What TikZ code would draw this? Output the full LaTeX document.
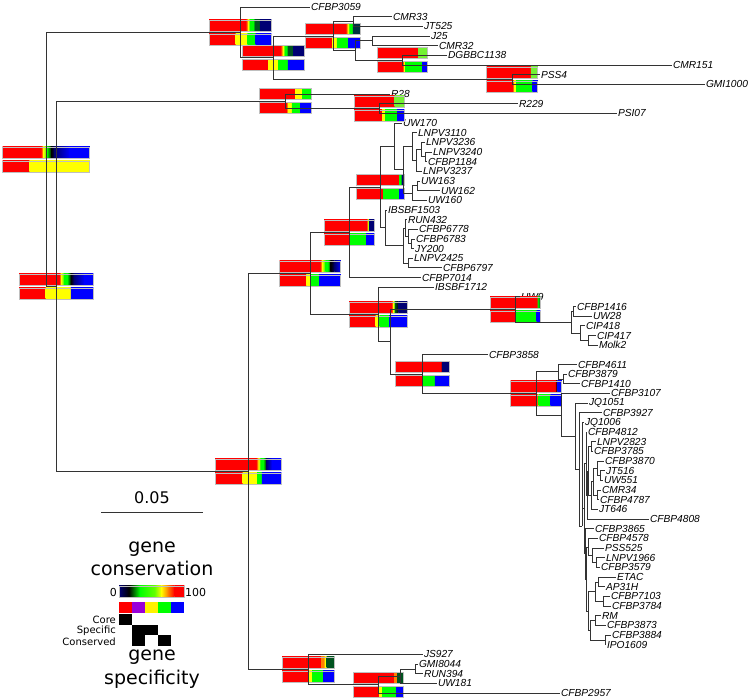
\documentclass[tikz,border=0pt]{standalone}
\usepackage{fontspec}
\setsansfont{DejaVu Sans}
\newfontfamily\leaffont{Liberation Sans}
\usetikzlibrary{positioning}

\definecolor{navy}{rgb}{0,0,0.45}
\definecolor{dkgreen}{rgb}{0,0.33,0.12}
\definecolor{dkteal}{rgb}{0,0.2,0.25}
\definecolor{ltgreen}{rgb}{0.45,0.95,0.2}
\definecolor{specviolet}{rgb}{0.6,0,0.85}

\tikzset{
  branch/.style={draw=black!80, line width=0.75pt},
  leaf/.style={anchor=west, inner sep=0.8pt, font=\leaffont\itshape\fontsize{10.2}{10.5}\selectfont},
  barrim/.style={draw=black!25, line width=0.4pt},
  legendbig/.style={font=\sffamily\fontsize{19}{23.5}\selectfont, align=center, inner sep=0pt},
  legendsmall/.style={font=\sffamily\fontsize{10}{12}\selectfont, inner sep=1pt},
}

% one coloured bar: x0, y0, width, height, segments from/to/colour/colour
\newcommand{\segbar}[5]{%
  \foreach \a/\b/\ca/\cb in {#5}
    \shade[left color=\ca, right color=\cb] ({#1+\a*(#3)},{#2}) rectangle ({#1+\b*(#3)+0.3},{#2+#4});
  \draw[barrim] ({#1},{#2}) rectangle ({#1+#3},{#2+#4});}
% the two bars at an inner node: node, width, conservation, specificity
\newcommand{\genebars}[4]{%
  \begin{scope}[shift={(#1)}]
    \segbar{-#2/2}{-12.5}{#2}{11}{#3}
    \segbar{-#2/2}{1.5}{#2}{11}{#4}
  \end{scope}}

\begin{document}
\begin{tikzpicture}[x=1pt, y=-1pt]
    \useasboundingbox (0,0) rectangle (748,700);

    % leaves
    \foreach \x/\lbl [count=\i from 0] in {310/CFBP3059, 392/CMR33, 423/JT525, 430/J25, 438/CMR32, 447/DGBBC1138, 672/CMR151, 540/PSS4, 705/GMI1000, 390/R28, 518/R229, 617/PSI07, 402/UW170, 417/LNPV3110, 425/LNPV3236, 432/LNPV3240, 427/CFBP1184, 422/LNPV3237, 420/UW163, 440/UW162, 427/UW160, 387/IBSBF1503, 407/RUN432, 418/CFBP6778, 415/CFBP6783, 414/JY200, 413/LNPV2425, 442/CFBP6797, 421/CFBP7014, 434/IBSBF1712, 520/UW9, 576/CFBP1416, 592/UW28, 585/CIP418, 596/CIP417, 598/Molk2, 488/CFBP3858, 577/CFBP4611, 567/CFBP3879, 580/CFBP1410, 610/CFBP3107, 588/JQ1051, 602/CFBP3927, 584/JQ1006, 587/CFBP4812, 596/LNPV2823, 593/CFBP3785, 604/CFBP3870, 605/JT516, 603/UW551, 601/CMR34, 599/CFBP4787, 598/JT646, 649/CFBP4808, 594/CFBP3865, 598/CFBP4578, 604/PSS525, 605/LNPV1966, 600/CFBP3579, 616/ETAC, 605/AP31H, 610/CFBP7103, 611/CFBP3784, 601/RM, 606/CFBP3873, 611/CFBP3884, 606/IPO1609, 423/JS927, 418/GMI8044, 423/RUN394, 437/UW181, 560/CFBP2957}
        \node[leaf] (\lbl) at (\x,{7+9.662*\i}) {\lbl};

    % inner nodes
    \foreach \nm/\x/\y in {root/46/159.4, nTwo/56/286.4, nA/240/32.4, nB/273/57.7, nC/333/36, nG/353/21.5, nH/355/50.5, nI/372/40.8, nE/402/60.1, nF/512/79.5, nJ/285/101.2, nK/379/108.5, nL/248/471.5, nM/310/273.4, nO/349/232.3, nQ/380/187, nR/394/146.4, nT/403/169.8, nU/412/146.5, nUb/416/160.4, nUc/421/149.5, nUd/425/156.8, nV/412/193, nVb/417/185.8, nS/385/227.7, nSb/403/245.5, nSc/405/228, nSe/408/236.5, nSf/411/243.7, nSd/408/263, nP/378/314.5, nW/390/341.8, nX/515/309.5, nZ/571/322.2, nZa/573/311.4, nZb/580/333.1, nZc/588/340.3, nY/422/374, nAA/536/393.3, nAB/558/371.7, nABb/563/379, nAC/561/414.9, nAD/575/436.3, nAE/579/469.4, nAF/582/526, nAG/584/508.7, nGa/586/463.6, nGah/587/495, nGag/588/471, nGaa/591/446.6, nGaf/591/495.5, nGae/593/481.6, nGac/597/468.4, nGab/600/475.6, nGad/597/494.9, nGb/585/553.8, nGbl/586/578.9, nGbk/588/546.9, nGbb/592/555.3, nGba/596/562.6, nGbj/588/610.9, nGbf/595/591.5, nGbe/598/581.9, nGbc/603/601.2, nGbi/590/630.2, nGbg/595/620.5, nGbh/605/639.9, nN/308/669.5, nNB/378/684.6, nNC/400/676.1, nND/415/668.9}
        \coordinate (\nm) at (\x,\y);

    % gene bars
    \genebars{root}{87}{0/.44/red/red, .44/.47/red/yellow, .47/.51/yellow/green, .51/.56/green/black, .56/.60/black/navy, .60/.77/navy/blue, .77/1/blue/blue}{0/.31/red/red, .31/1/yellow/yellow}
    \genebars{nTwo}{74}{0/.54/red/red, .54/.57/red/yellow, .57/.61/yellow/green, .61/.65/green/green, .65/.70/green/black, .70/.74/black/navy, .74/.88/navy/blue, .88/1/blue/blue}{0/.36/red/red, .36/.70/yellow/yellow, .70/1/blue/blue}
    \genebars{nA}{62}{0/.59/red/red, .59/.63/red/yellow, .63/.66/yellow/green, .66/.71/green/green, .71/.74/green/dkgreen, .74/.82/dkgreen/dkgreen, .82/1/navy/navy}{0/.43/red/red, .43/.62/yellow/yellow, .62/.75/green/green, .75/1/blue/blue}
    \genebars{nB}{62}{0/.62/red/red, .62/.66/red/yellow, .66/.69/yellow/green, .69/.72/green/green, .72/.74/green/dkgreen, .74/.83/dkgreen/dkgreen, .83/1/navy/navy}{0/.43/red/red, .43/.59/yellow/yellow, .59/.74/green/green, .74/1/blue/blue}
    \genebars{nC}{55}{0/.73/red/red, .73/.77/red/yellow, .77/.80/yellow/green, .80/.84/green/green, .84/.87/green/dkteal, .87/1/dkteal/dkteal}{0/.49/red/red, .49/.57/yellow/yellow, .57/.78/green/green, .78/1/blue/blue}
    \genebars{nE}{50}{0/.82/red/red, .82/1/ltgreen/ltgreen}{0/.53/red/red, .53/.57/yellow/yellow, .57/.9/green/green, .9/1/blue/blue}
    \genebars{nF}{51}{0/.87/red/red, .87/1/ltgreen/ltgreen}{0/.53/red/red, .53/.58/yellow/yellow, .58/.9/green/green, .9/1/blue/blue}
    \genebars{nJ}{52}{0/.70/red/red, .70/.84/yellow/yellow, .84/1/green/green}{0/.54/red/red, .54/.57/orange/yellow, .57/.63/yellow/yellow, .63/.80/green/green, .80/1/blue/blue}
    \genebars{nK}{50}{0/.81/red/red, .81/1/ltgreen/ltgreen}{0/.56/red/red, .56/.62/yellow/yellow, .62/.86/green/green, .86/1/blue/blue}
    \genebars{nL}{66}{0/.62/red/red, .62/.66/red/yellow, .66/.69/yellow/green, .69/.73/green/green, .73/.78/green/black, .78/.86/navy/blue, .86/1/blue/blue}{0/.42/red/red, .42/.64/yellow/yellow, .64/.71/green/green, .71/1/blue/blue}
    \genebars{nM}{61}{0/.66/red/red, .66/.70/red/yellow, .70/.75/yellow/green, .75/.79/green/green, .79/.84/green/black, .84/.90/black/navy, .90/1/navy/blue}{0/.44/red/red, .44/.52/yellow/yellow, .52/.65/green/green, .65/1/blue/blue}
    \genebars{nO}{50}{0/.87/red/red, .87/.9/yellow/green, .9/1/navy/navy}{0/.52/red/red, .52/.84/green/green, .84/1/blue/blue}
    \genebars{nQ}{48}{0/.9/red/red, .9/.95/green/green, .95/1/navy/navy}{0/.57/red/red, .57/.9/green/green, .9/1/blue/blue}
    \genebars{nP}{58}{0/.73/red/red, .73/.76/red/yellow, .76/.79/yellow/green, .79/.85/dkgreen/black, .85/1/navy/navy}{0/.46/red/red, .46/.53/yellow/yellow, .53/.69/green/green, .69/1/blue/blue}
    \genebars{nX}{50}{0/.95/red/red, .95/1/green/dkgreen}{0/.52/red/red, .52/.93/green/green, .93/1/blue/blue}
    \genebars{nY}{54}{0/.86/red/red, .86/.88/red!50!black/black, .88/1/navy/navy}{0/.51/red/red, .51/.53/yellow/yellow, .53/.74/green/green, .74/1/blue/blue}
    \genebars{nAA}{51}{0/.89/red/red, .89/.92/red!40!black/black, .92/1/blue/blue}{0/.53/red/red, .53/.55/yellow/yellow, .55/.78/green/green, .78/1/blue/blue}
    \genebars{nN}{52}{0/.75/red/red, .75/.82/orange/orange, .82/.86/yellow/yellow, .86/1/dkgreen/dkgreen}{0/.52/red/red, .52/.58/yellow/yellow, .58/.79/green/green, .79/1/blue/blue}
    \genebars{nNB}{50}{0/.83/red/red, .83/.89/orange/orange, .89/1/dkgreen/dkgreen}{0/.53/red/red, .53/.59/yellow/yellow, .59/.87/green/green, .87/1/blue/blue}

    % branches
    \foreach \p/\c in {root/nA, root/nTwo, nTwo/nJ, nTwo/nL, nA/CFBP3059, nA/nB, nB/nC, nB/nF, nC/nG, nC/nH, nG/CMR33, nG/JT525, nH/nI, nH/nE, nI/J25, nI/CMR32, nE/DGBBC1138, nE/CMR151, nF/PSS4, nF/GMI1000, nJ/R28, nJ/nK, nK/R229, nK/PSI07, nL/nM, nL/nN, nM/nO, nM/nP, nO/nQ, nO/CFBP7014, nQ/nR, nQ/nS, nR/UW170, nR/nT, nT/nU, nT/nV, nU/LNPV3110, nU/nUb, nUb/nUc, nUb/LNPV3237, nUc/LNPV3236, nUc/nUd, nUd/LNPV3240, nUd/CFBP1184, nV/nVb, nV/UW160, nVb/UW163, nVb/UW162, nS/IBSBF1503, nS/nSb, nSb/nSc, nSb/nSd, nSc/RUN432, nSc/nSe, nSe/CFBP6778, nSe/nSf, nSf/CFBP6783, nSf/JY200, nSd/LNPV2425, nSd/CFBP6797, nP/IBSBF1712, nP/nW, nW/nX, nW/nY, nX/UW9, nX/nZ, nZ/nZa, nZ/nZb, nZa/CFBP1416, nZa/UW28, nZb/CIP418, nZb/nZc, nZc/CIP417, nZc/Molk2, nY/CFBP3858, nY/nAA, nAA/nAB, nAA/nAC, nAB/CFBP4611, nAB/nABb, nABb/CFBP3879, nABb/CFBP1410, nAC/CFBP3107, nAC/nAD, nAD/JQ1051, nAD/nAE, nAE/CFBP3927, nAE/nAF, nAF/JQ1006, nAF/nAG, nAG/nGa, nAG/nGb, nGa/CFBP4812, nGa/nGah, nGah/nGag, nGah/CFBP4808, nGag/nGaa, nGag/nGaf, nGaa/LNPV2823, nGaa/CFBP3785, nGaf/nGae, nGaf/JT646, nGae/nGac, nGae/nGad, nGac/CFBP3870, nGac/nGab, nGab/JT516, nGab/UW551, nGad/CMR34, nGad/CFBP4787, nGb/CFBP3865, nGb/nGbl, nGbl/nGbk, nGbl/nGbj, nGbk/CFBP4578, nGbk/nGbb, nGbb/PSS525, nGbb/nGba, nGba/LNPV1966, nGba/CFBP3579, nGbj/nGbf, nGbj/nGbi, nGbf/nGbe, nGbf/nGbc, nGbe/ETAC, nGbe/AP31H, nGbc/CFBP7103, nGbc/CFBP3784, nGbi/nGbg, nGbi/nGbh, nGbg/RM, nGbg/CFBP3873, nGbh/CFBP3884, nGbh/IPO1609, nN/JS927, nN/nNB, nNB/nNC, nNB/CFBP2957, nNC/nND, nNC/UW181, nND/GMI8044, nND/RUN394}
        \draw[branch] (\p) |- (\c);

    % scale bar
    \node[legendsmall, font=\sffamily\fontsize{16}{18}\selectfont] (scaletxt) at (152,498) {0.05};
    \coordinate (sbarL) at (101,512);
    \coordinate (sbarR) at (203,512);
    \draw[black!80, line width=0.8pt] (sbarL) -- (sbarR);

    % legend
    \node[legendbig] (consttl) at (152,559) {gene\\conservation};
    \segbar{119}{586}{65}{11}{0/.15/navy/black, .15/.32/black/green, .32/.55/green/green!60!yellow, .55/.65/green!60!yellow/yellow, .65/.75/yellow/orange, .75/.85/orange/red, .85/1/red/red}
    \node[legendsmall, font=\sffamily\fontsize{11}{12}\selectfont, anchor=east] (zerolbl) at (118,592) {0};
    \node[legendsmall, font=\sffamily\fontsize{11}{12}\selectfont, anchor=west] (hundlbl) at (184,592) {100};
    \foreach \c [count=\i from 0] in {red, specviolet, yellow, green, blue}
        \fill[\c] ({119+13*\i},602) rectangle ++(13,11);
    \foreach \i/\r in {0/0, 1/1, 2/1, 1/2, 3/2}
        \fill[black] ({119+13*\i},{614+10.7*\r}) rectangle ++(13,10.7);
    \node[legendsmall, anchor=east] (corelbl) at (117,619.5) {Core};
    \node[legendsmall, anchor=east] (speclbl) at (117,630.5) {Specific};
    \node[legendsmall, anchor=east] (conslbl) at (117,641.5) {Conserved};
    \node[legendbig] (spectt) at (152,669) {gene\\specificity};
\end{tikzpicture}
\end{document}
